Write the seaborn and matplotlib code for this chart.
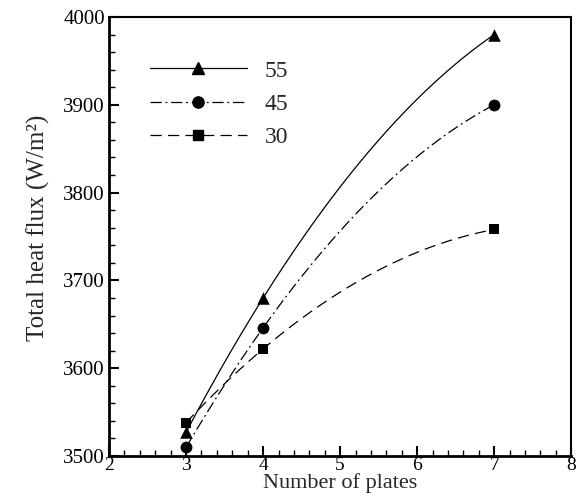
import numpy as np
import pandas as pd
import matplotlib
matplotlib.use("Agg")
import matplotlib.pyplot as plt
from matplotlib.lines import Line2D
from matplotlib.ticker import MultipleLocator
import seaborn as sns

plates = [3, 4, 7]
flux_55 = [3527, 3680, 3980]
flux_45 = [3510, 3646, 3900]
flux_30 = [3538, 3622, 3758]
series_labels = ["55", "45", "30"]

sns.set_theme(style="white")
plt.rcParams['font.family'] = ['Liberation Serif', 'DejaVu Serif']

fig = plt.figure(figsize=(5.77, 4.93), dpi=100)
ax = fig.add_axes([0.189, 0.075, 0.801, 0.8905])

styles = {
    "55": dict(ls="-", marker="^", ms=9),
    "45": dict(ls=(0, (9, 3, 1.5, 3)), marker="o", ms=8.5),
    "30": dict(ls=(0, (9, 5)), marker="s", ms=7.5),
}
data = {"55": flux_55, "45": flux_45, "30": flux_30}

handles = []
for lab in series_labels:
    y = np.array(data[lab], dtype=float)
    x = np.array(plates, dtype=float)
    coef = np.polyfit(x, y, 2)
    xs = np.linspace(x.min(), x.max(), 200)
    curve = pd.DataFrame({"x": xs, "y": np.polyval(coef, xs)})
    pts = pd.DataFrame({"x": x, "y": y})
    st = styles[lab]
    sns.lineplot(data=curve, x="x", y="y", ax=ax, color="black", lw=0.9,
                 linestyle=st["ls"], estimator=None, sort=False)
    sns.scatterplot(data=pts, x="x", y="y", ax=ax, color="black",
                    marker=st["marker"], s=st["ms"] ** 2, edgecolor="black",
                    linewidth=0, zorder=5)
    h = Line2D([0, 1, 2], [0, 0, 0], color="black", lw=0.9, linestyle=st["ls"],
               marker=st["marker"], markersize=st["ms"] * 0.95,
               markevery=[1], label=lab)
    handles.append(h)

ax.set_xlim(2, 8)
ax.set_ylim(3500, 4000)
ax.xaxis.set_major_locator(MultipleLocator(1))
ax.xaxis.set_minor_locator(MultipleLocator(0.2))
ax.yaxis.set_major_locator(MultipleLocator(100))
ax.yaxis.set_minor_locator(MultipleLocator(20))
ax.tick_params(which="major", direction="in", length=7, width=1.5,
               labelsize=15, top=False, right=False, left=True, bottom=True,
               colors="black", pad=3)
ax.tick_params(axis="x", which="major", pad=1, labelsize=14)
ax.tick_params(which="minor", direction="in", length=4, width=1,
               top=False, right=False, left=True, bottom=True, colors="black")
for side in ["left", "bottom"]:
    ax.spines[side].set_linewidth(2)
    ax.spines[side].set_color("black")
for side in ["top", "right"]:
    ax.spines[side].set_linewidth(1.5)
    ax.spines[side].set_color("black")

ax.set_xlabel("Number of plates", fontsize=16)
ax.xaxis.label.set_va("bottom")
ax.xaxis.set_label_coords(0.5, -0.0845)
ax.set_ylabel("Total heat flux (W/m²)", fontsize=18)
ax.yaxis.set_label_coords(-0.127, 0.52)

leg = ax.legend(handles=handles, loc="upper left", bbox_to_anchor=(0.0887, 0.902),
                frameon=False, fontsize=17, handlelength=4.1, handletextpad=0.75,
                labelspacing=0.5, borderpad=0, borderaxespad=0)

fig.savefig("out.png", dpi=100)
